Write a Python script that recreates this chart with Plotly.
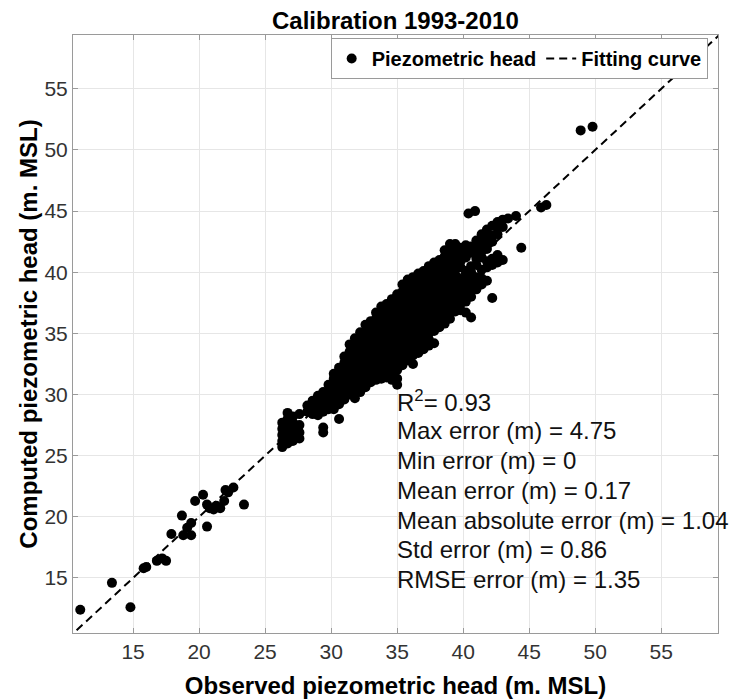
import plotly.graph_objects as go

# ---------------- data ----------------
# isolated low-range points (observed, computed)
obs_low = [11.0, 13.4, 14.8, 15.8, 16.0, 16.8, 17.2, 17.5, 17.9, 18.7, 18.8, 19.1,
           19.4, 19.4, 20.6, 19.7, 20.3, 20.6, 20.8, 21.1, 21.3, 21.6, 21.9, 22.0,
           22.2, 22.6, 23.4]
comp_low = [12.4, 14.6, 12.6, 15.8, 15.9, 16.4, 16.6, 16.4, 18.6, 20.1, 18.5, 19.1,
            18.5, 19.5, 19.2, 21.3, 21.8, 21.0, 20.7, 20.6, 20.9, 20.7, 21.3, 22.2,
            22.0, 22.4, 21.0]

# main cluster, listed column by column: observed value -> computed values
cluster_cols = [
    (26.3, [25.7, 26.2, 26.7, 27.2, 27.7]),
    (26.7, [26.0, 26.5, 27.0, 27.5, 28.0, 28.5]),
    (27.1, [26.2, 26.7, 27.2, 27.7, 28.2]),
    (27.6, [26.4, 26.9, 27.5, 28.4]),
    (28.2, [28.6, 29.1]),
    (28.6, [28.4, 28.9, 29.5]),
    (29.0, [28.3, 28.8, 29.3, 29.9]),
    (29.4, [26.9, 27.3, 28.6, 29.1, 29.6, 30.2]),
    (29.8, [28.8, 29.3, 29.8, 30.3, 30.8]),
    (30.2, [28.8, 29.3, 29.8, 30.3, 30.8, 31.3, 31.7]),
    (30.6, [28.0, 29.2, 29.7, 30.2, 30.7, 31.2, 31.7, 32.2]),
    (31.0, [29.6, 30.1, 30.6, 31.1, 31.6, 32.1, 32.6, 33.1]),
    (31.4, [30.0, 30.5, 31.0, 31.5, 32.0, 32.5, 33.0, 33.5, 34.1]),
    (31.8, [29.7, 30.2, 30.7, 31.2, 31.7, 32.2, 32.7, 33.2, 33.7, 34.2, 34.6]),
    (32.2, [30.2, 30.7, 31.2, 31.7, 32.2, 32.7, 33.2, 33.7, 34.2, 34.7, 35.1]),
    (32.6, [30.6, 31.1, 31.6, 32.1, 32.6, 33.1, 33.6, 34.1, 34.6, 35.1, 35.7]),
    (33.0, [31.0, 31.5, 32.0, 32.5, 33.0, 33.5, 34.0, 34.5, 35.0, 35.5, 36.0]),
    (33.4, [31.2, 31.7, 32.2, 32.7, 33.2, 33.7, 34.2, 34.7, 35.2, 35.7, 36.2, 36.7]),
    (33.8, [31.3, 31.8, 32.3, 32.8, 33.3, 33.8, 34.3, 34.8, 35.3, 35.8, 36.3, 36.8, 37.2]),
    (34.2, [31.4, 31.9, 32.4, 32.9, 33.4, 33.9, 34.4, 34.9, 35.4, 35.9, 36.4, 36.9, 37.4]),
    (34.6, [31.2, 31.7, 32.2, 32.7, 33.2, 33.7, 34.2, 34.7, 35.2, 35.7, 36.2, 36.7, 37.2, 37.8]),
    (35.0, [30.8, 31.3, 32.0, 32.5, 33.0, 33.5, 34.0, 34.5, 35.0, 35.5, 36.0, 36.5, 37.0, 37.5, 38.2]),
    (35.4, [32.4, 32.9, 33.4, 33.9, 34.4, 34.9, 35.4, 35.9, 36.4, 36.9, 37.4, 37.9, 38.4, 39.0]),
    (35.8, [32.8, 33.3, 33.8, 34.3, 34.8, 35.3, 35.8, 36.3, 36.8, 37.3, 37.8, 38.3, 38.8, 39.4]),
    (36.2, [32.5, 33.2, 33.7, 34.2, 34.7, 35.2, 35.7, 36.2, 36.7, 37.2, 37.7, 38.2, 38.7, 39.2, 39.6]),
    (36.6, [33.4, 33.9, 34.4, 34.9, 35.4, 35.9, 36.4, 36.9, 37.4, 37.9, 38.4, 38.9, 39.4, 39.9]),
    (37.0, [33.7, 34.2, 34.7, 35.2, 35.7, 36.2, 36.7, 37.2, 37.7, 38.2, 38.7, 39.2, 39.7, 40.1]),
    (37.4, [34.0, 34.5, 35.0, 35.5, 36.0, 36.5, 37.0, 37.5, 38.0, 38.5, 39.0, 39.5, 40.0, 40.5]),
    (37.8, [34.2, 35.2, 35.7, 36.2, 36.7, 37.2, 37.7, 38.2, 38.7, 39.2, 39.7, 40.2, 40.8]),
    (38.2, [35.5, 36.0, 36.5, 37.0, 37.5, 38.0, 38.5, 39.0, 39.5, 40.0, 40.5, 41.0]),
    (38.6, [35.8, 36.3, 36.8, 37.3, 37.8, 38.3, 38.8, 39.3, 39.8, 40.3, 40.8, 41.3, 41.8]),
    (39.0, [36.2, 36.7, 37.2, 37.7, 38.2, 38.7, 39.2, 39.7, 40.2, 40.7, 41.2, 41.7, 42.3]),
    (39.4, [36.8, 37.3, 37.8, 38.3, 38.8, 39.3, 39.8, 40.3, 40.8, 41.3, 41.8, 42.3]),
    (39.8, [36.9, 37.4, 37.9, 38.4, 38.9, 39.4, 40.4, 40.9, 41.4, 42.0]),
    (40.2, [36.7, 37.6, 38.1, 38.6, 39.1, 39.6, 40.1, 41.2, 41.7, 42.2]),
    (40.6, [36.3, 38.0, 38.5, 39.0, 39.5, 40.0, 40.5, 41.6, 42.1]),
    (41.0, [38.6, 39.1, 39.6, 40.6, 41.1, 41.6, 42.1, 42.6]),
    (41.4, [39.0, 39.5, 40.2, 41.2, 41.7, 42.2, 42.7, 43.1]),
    (41.8, [39.3, 40.4, 40.9, 41.9, 42.4, 42.9, 43.5]),
    (42.2, [37.9, 40.6, 41.1, 42.5, 43.0, 43.8]),
    (42.6, [40.8, 41.4, 43.1, 43.6, 44.1]),
    (43.0, [41.0, 43.7, 44.3]),
    (43.4, [44.4]),
    (44.0, [44.6]),
    (44.4, [42.0]),
]

# isolated high-range points
obs_high = [40.4, 40.9, 45.9, 46.3, 48.9, 49.8]
comp_high = [44.8, 45.0, 45.3, 45.5, 51.6, 51.9]

fit_x = [10, 60]
fit_y = [10, 60]

x_ticks = [15, 20, 25, 30, 35, 40, 45, 50, 55]
y_ticks = [15, 20, 25, 30, 35, 40, 45, 50, 55]

stats_lines = [
    "R<sup>2</sup>= 0.93",
    "Max error (m) = 4.75",
    "Min error (m) = 0",
    "Mean error (m) = 0.17",
    "Mean absolute error (m) = 1.04",
    "Std error (m) = 0.86",
    "RMSE error (m) = 1.35",
]

# ---------------- build ----------------
obs = list(obs_low)
comp = list(comp_low)
for xv, ys in cluster_cols:
    for yv in ys:
        obs.append(xv)
        comp.append(yv)
obs += obs_high
comp += comp_high

FONT = "Liberation Sans, Arial, Helvetica, sans-serif"

fig = go.Figure()
fig.add_trace(go.Scatter(
    x=obs, y=comp, mode="markers", name="<b>Piezometric head</b>",
    marker=dict(color="black", size=10, line=dict(width=0)),
))
fig.add_trace(go.Scatter(
    x=fit_x, y=fit_y, mode="lines", name="<b>Fitting curve</b>",
    line=dict(color="black", width=2, dash="8px,5px"),
))

y0 = 29.5
step = 2.44
for i, t in enumerate(stats_lines):
    fig.add_annotation(
        x=34.85, y=y0 - i * step, xref="x", yref="y", text=t,
        showarrow=False, xanchor="left", yanchor="middle",
        font=dict(family=FONT, size=24, color="#111111"),
    )

axis_common = dict(
    showgrid=True, gridcolor="#e6e6e6", gridwidth=1,
    showline=True, linecolor="#9a9a9a", linewidth=1, mirror="ticks",
    ticks="inside", ticklen=5, tickcolor="#9a9a9a",
    tickfont=dict(family=FONT, size=21, color="#333333"),
    zeroline=False, automargin=False,
)

fig.update_layout(
    width=739, height=699,
    margin=dict(l=73, r=21, t=35, b=66, autoexpand=False),
    paper_bgcolor="white", plot_bgcolor="white",
    font=dict(family=FONT, color="black"),
    title=dict(
        text="<b>Calibration 1993-2010</b>", x=0.535, xanchor="center",
        xref="container", y=1 - 21 / 699, yanchor="middle", yref="container",
        font=dict(family=FONT, size=24, color="black"), automargin=False,
    ),
    xaxis=dict(
        range=[10.45, 59.3], tickvals=x_ticks,
        title=dict(text="<b>Observed piezometric head (m. MSL)</b>",
                   font=dict(family=FONT, size=24, color="black"), standoff=17),
        **axis_common,
    ),
    yaxis=dict(
        range=[10.5, 59.4], tickvals=y_ticks,
        title=dict(text="<b>Computed piezometric head (m. MSL)</b>",
                   font=dict(family=FONT, size=24, color="black"), standoff=0),
        **axis_common,
    ),
    legend=dict(
        orientation="h", x=0.984, xanchor="right", y=0.995, yanchor="top",
        xref="paper", yref="paper",
        bgcolor="white", bordercolor="#9a9a9a", borderwidth=1,
        font=dict(family=FONT, size=20, color="black"),
        itemwidth=30,
    ),
    showlegend=True,
)

fig.write_html("out.html", config={"displayModeBar": False},
               post_script="document.body.style.margin='0';")
